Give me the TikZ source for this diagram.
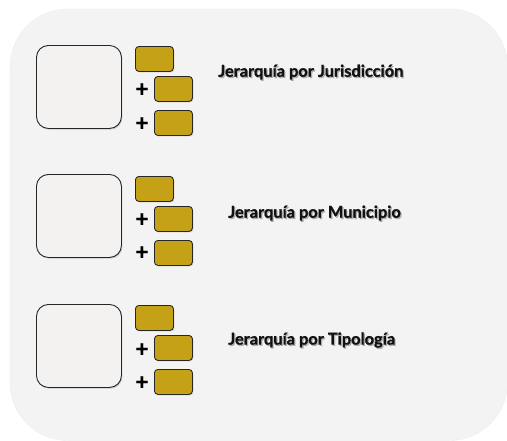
\documentclass[tikz,border=0pt]{standalone}
\usepackage{fontspec}
\setmainfont{Lato}
\newfontfamily\heavyfont{Lato}[BoldFeatures={FakeBold=0.9}]
\usetikzlibrary{shadows}
\definecolor{bgc}{HTML}{F3F3F3}
\definecolor{sqc}{HTML}{F3F2F1}
\definecolor{goldc}{HTML}{C4A116}
\definecolor{edgec}{HTML}{262626}
\tikzset{
  bigsq/.style={draw=edgec, line width=0.9pt, fill=sqc, rounded corners=12pt,
    minimum width=85pt, minimum height=83pt, inner sep=0pt, anchor=north west,
    drop shadow={opacity=0.35, shadow xshift=1pt, shadow yshift=-1.2pt}},
  goldbox/.style={draw=edgec, line width=0.85pt, fill=goldc, rounded corners=3.5pt,
    minimum width=38pt, minimum height=25pt, inner sep=0pt, anchor=north west,
    drop shadow={opacity=0.35, shadow xshift=1pt, shadow yshift=-1pt}},
  plussign/.style={font=\heavyfont\fontsize{23}{23}\selectfont\bfseries, text=black, inner sep=0pt},
  title/.style={font=\heavyfont\fontsize{16.4}{18}\selectfont\bfseries, text=black!93, inner sep=0pt, anchor=west},
  titleshadow/.style={title, text=black, opacity=0.25}
}
\begin{document}
\begin{tikzpicture}[x=1pt,y=-1pt]
\useasboundingbox (0,0) rectangle (507,440);
\fill[white] (0,0) rectangle (507,440);
\filldraw[fill=bgc, draw=black!7, line width=0.4pt, rounded corners=58pt] (10,9) rectangle (507.5,440.5);

% group 1
\node[bigsq] (sq1) at (36,45) {};
\node[goldbox] (g1a) at (135,46) {};
\node[goldbox] (g1b) at (154,76) {};
\node[goldbox] (g1c) at (154,110) {};
\node[plussign] (p1b) at (142,90) {+};
\node[plussign] (p1c) at (142,124) {+};
\node[titleshadow] (s1) at (219.2,73.3) {Jerarquía por Jurisdicción};
\node[title] (t1) at (218,72) {Jerarquía por Jurisdicción};

% group 2
\node[bigsq] (sq2) at (36,174) {};
\node[goldbox] (g2a) at (135,176) {};
\node[goldbox] (g2b) at (154,206) {};
\node[goldbox] (g2c) at (154,240) {};
\node[plussign] (p2b) at (142,220) {+};
\node[plussign] (p2c) at (142,253) {+};
\node[titleshadow] (s2) at (229.2,214.3) {Jerarquía por Municipio};
\node[title] (t2) at (228,213) {Jerarquía por Municipio};

% group 3
\node[bigsq] (sq3) at (36,304) {};
\node[goldbox] (g3a) at (135,305) {};
\node[goldbox] (g3b) at (154,335) {};
\node[goldbox] (g3c) at (154,369) {};
\node[plussign] (p3b) at (142,350) {+};
\node[plussign] (p3c) at (142,383) {+};
\node[titleshadow] (s3) at (229.2,341.3) {Jerarquía por Tipología};
\node[title] (t3) at (228,340) {Jerarquía por Tipología};
\end{tikzpicture}
\end{document}
